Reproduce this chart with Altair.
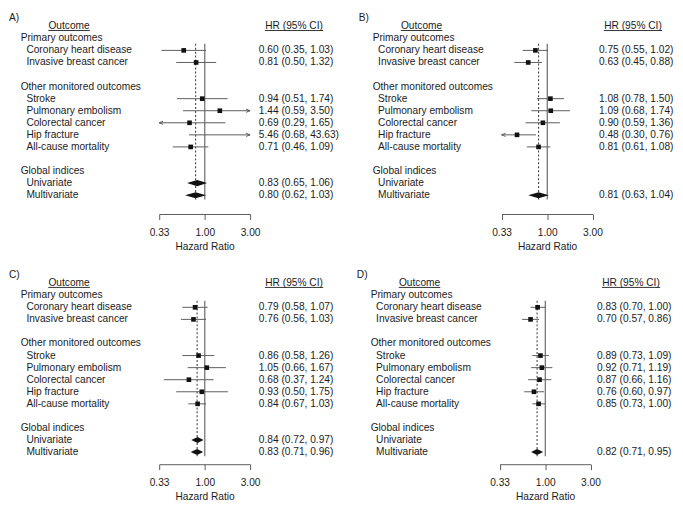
import altair as alt
import pandas as pd

# ---------------- data ----------------
GROUPS = ["Primary outcomes", "Other monitored outcomes", "Global indices"]
GROUP_ROWS = [1, 5, 12]
ITEMS = ["Coronary heart disease", "Invasive breast cancer", "Stroke",
         "Pulmonary embolism", "Colorectal cancer", "Hip fracture", "All-cause mortality"]
ITEM_ROWS = [2, 3, 6, 7, 8, 9, 10]
GLOBALS = ["Univariate", "Multivariate"]
GLOBAL_ROWS = [13, 14]
TICKS = [0.33, 1.00, 3.00]
REF_HR = 1.0

A_HR = [0.60, 0.81, 0.94, 1.44, 0.69, 5.46, 0.71]
A_LO = [0.35, 0.50, 0.51, 0.59, 0.29, 0.68, 0.46]
A_HI = [1.03, 1.32, 1.74, 3.50, 1.65, 43.63, 1.09]
A_G_HR = [0.83, 0.80]
A_G_LO = [0.65, 0.62]
A_G_HI = [1.06, 1.03]

B_HR = [0.75, 0.63, 1.08, 1.09, 0.90, 0.48, 0.81]
B_LO = [0.55, 0.45, 0.78, 0.68, 0.59, 0.30, 0.61]
B_HI = [1.02, 0.88, 1.50, 1.74, 1.36, 0.76, 1.08]
B_G_HR = [None, 0.81]
B_G_LO = [None, 0.63]
B_G_HI = [None, 1.04]

C_HR = [0.79, 0.76, 0.86, 1.05, 0.68, 0.93, 0.84]
C_LO = [0.58, 0.56, 0.58, 0.66, 0.37, 0.50, 0.67]
C_HI = [1.07, 1.03, 1.26, 1.67, 1.24, 1.75, 1.03]
C_G_HR = [0.84, 0.83]
C_G_LO = [0.72, 0.71]
C_G_HI = [0.97, 0.96]

D_HR = [0.83, 0.70, 0.89, 0.92, 0.87, 0.76, 0.85]
D_LO = [0.70, 0.57, 0.73, 0.71, 0.66, 0.60, 0.73]
D_HI = [1.00, 0.86, 1.09, 1.19, 1.16, 0.97, 1.00]
D_G_HR = [None, 0.82]
D_G_LO = [None, 0.71]
D_G_HI = [None, 0.95]

# ---------------- style / layout ----------------
FONT = "Liberation Sans"
FS = 10.3
TXT = "#1c1c1c"
LINE = "#5c5c5c"
Y0 = 14.5
DY = 12.21
DH = 0.25
RIGHT_ARROW = "M -2 -0.8 L 0 0 L -2 0.8"
LEFT_ARROW = "M 2 -0.8 L 0 0 L 2 0.8"

LAY_LEFT = dict(xl=0, xg=11.8, xi=17.6, xo=60.8, xh=288.5, xv=252.8, x0=151.9, x1=244.0)
LAY_RIGHT = dict(xl=18.0, xg=32.0, xi=37.5, xo=81.5, xh=295.5, xv=261.0, x0=162.5, x1=254.5)


def fmt(h, l, u):
    return f"{h:.2f} ({l:.2f}, {u:.2f})"


def panel(letter, hr, lo, hi, ghr, glo, ghi, lay, W, H, axoff):
    xmin, xmax = TICKS[0], TICKS[-1]
    xs = alt.Scale(type="log", domain=[xmin, xmax], range=[lay["x0"], lay["x1"]], nice=False)
    ys = alt.Scale(domain=[0, 14], range=[Y0, Y0 + 14 * DY], nice=False, zero=False)
    xaxis = alt.Axis(values=TICKS, format=".2f", title="Hazard Ratio", grid=False, offset=axoff,
                     tickSize=5.5, tickColor=LINE, domainColor=LINE, tickWidth=1, domainWidth=1,
                     labelColor=TXT, titleColor=TXT, labelFont=FONT, titleFont=FONT,
                     labelFontSize=FS, titleFontSize=FS, titleFontWeight="normal",
                     labelPadding=8.5, titlePadding=3.5, labelFlush=False, labelOverlap=False)

    def X(f):
        return alt.X(f"{f}:Q", scale=xs, axis=xaxis, title="Hazard Ratio")

    def Y(f):
        return alt.Y(f"{f}:Q", scale=ys, axis=None)

    items = pd.DataFrame({"row": ITEM_ROWS, "label": ITEMS, "hr": hr, "lo": lo, "hi": hi})
    items["lo_c"] = items["lo"].clip(lower=xmin)
    items["hi_c"] = items["hi"].clip(upper=xmax)
    items["txt"] = [fmt(a, b, c) for a, b, c in zip(hr, lo, hi)]
    left = items[items["lo"] < xmin].assign(tip=xmin)
    right = items[items["hi"] > xmax].assign(tip=xmax)
    sq = items[(items["hr"] >= xmin) & (items["hr"] <= xmax)]

    gl = pd.DataFrame({"row": GLOBAL_ROWS, "label": GLOBALS, "hr": ghr, "lo": glo, "hi": ghi})
    gv = gl.dropna().copy()
    gv["txt"] = [fmt(a, b, c) for a, b, c in zip(gv["hr"], gv["lo"], gv["hi"])]
    pts = []
    for _, r in gv.iterrows():
        for xv, h in ((r["lo"], 0.0), (r["hr"], DH), (r["hi"], 0.0)):
            pts.append({"id": r["label"], "x": xv, "yt": r["row"] - h, "yb": r["row"] + h})
    dia = pd.DataFrame(pts)

    groups = pd.DataFrame({"row": GROUP_ROWS, "label": GROUPS})
    sub = pd.DataFrame({"row": ITEM_ROWS + GLOBAL_ROWS, "label": ITEMS + GLOBALS})
    vals = pd.concat([items[["row", "txt"]], gv[["row", "txt"]]])

    txt = dict(font=FONT, fontSize=FS, color=TXT, baseline="middle")
    ytop = alt.YDatum(datum=GROUP_ROWS[0] + 0.45, scale=ys, axis=None)
    ybot = alt.Y2Datum(datum=GLOBAL_ROWS[-1] + 0.35)

    layers = [
        alt.Chart(pd.DataFrame({"hr": [REF_HR]})).mark_rule(color=LINE, strokeWidth=1.1)
        .encode(x=X("hr"), y=ytop, y2=ybot),
        alt.Chart(pd.DataFrame({"hr": [ghr[-1]]})).mark_rule(color="#444444", strokeWidth=1.1, strokeDash=[2, 2])
        .encode(x=X("hr"), y=ytop, y2=ybot),
        alt.Chart(items).mark_rule(color=LINE, strokeWidth=1)
        .encode(x=X("lo_c"), x2="hi_c:Q", y=Y("row")),
        alt.Chart(right).mark_point(shape=RIGHT_ARROW, filled=False, stroke=LINE, strokeWidth=1, size=16, opacity=1)
        .encode(x=X("tip"), y=Y("row")),
        alt.Chart(left).mark_point(shape=LEFT_ARROW, filled=False, stroke=LINE, strokeWidth=1, size=16, opacity=1)
        .encode(x=X("tip"), y=Y("row")),
        alt.Chart(sq).mark_square(color="#111111", size=22, opacity=1)
        .encode(x=X("hr"), y=Y("row")),
        alt.Chart(dia).mark_area(color="#111111", orient="vertical", opacity=1)
        .encode(x=X("x"), y=Y("yt"), y2="yb:Q", detail="id:N"),
        alt.Chart(groups).mark_text(align="left", **txt)
        .encode(x=alt.value(lay["xg"]), y=Y("row"), text="label:N"),
        alt.Chart(sub).mark_text(align="left", **txt)
        .encode(x=alt.value(lay["xi"]), y=Y("row"), text="label:N"),
        alt.Chart(vals).mark_text(align="left", **txt)
        .encode(x=alt.value(lay["xv"]), y=Y("row"), text="txt:N"),
        alt.Chart(pd.DataFrame({"row": [0], "label": ["Outcome"]})).mark_text(align="center", **txt)
        .encode(x=alt.value(lay["xo"]), y=Y("row"), text="label:N"),
        alt.Chart(pd.DataFrame({"row": [0], "label": ["HR (95% CI)"]})).mark_text(align="center", **txt)
        .encode(x=alt.value(lay["xh"]), y=Y("row"), text="label:N"),
        alt.Chart(pd.DataFrame({"k": [0]})).mark_rule(color=TXT, strokeWidth=0.9)
        .encode(x=alt.value(lay["xo"] - 21), x2=alt.value(lay["xo"] + 21), y=alt.value(18.8)),
        alt.Chart(pd.DataFrame({"k": [0]})).mark_rule(color=TXT, strokeWidth=0.9)
        .encode(x=alt.value(lay["xh"] - 29.5), x2=alt.value(lay["xh"] + 29.5), y=alt.value(18.8)),
        alt.Chart(pd.DataFrame({"label": [letter]})).mark_text(align="left", **txt)
        .encode(x=alt.value(lay["xl"]), y=alt.value(5.8), text="label:N"),
    ]
    return alt.layer(*layers).properties(width=W, height=H)


pa = panel("A)", A_HR, A_LO, A_HI, A_G_HR, A_G_LO, A_G_HI, LAY_LEFT, 332, 258, -53.5)
pb = panel("B)", B_HR, B_LO, B_HI, B_G_HR, B_G_LO, B_G_HI, LAY_RIGHT, 330, 258, -53.5)
pc = panel("C)", C_HR, C_LO, C_HI, C_G_HR, C_G_LO, C_G_HI, LAY_LEFT, 332, 236, -38.3)
pd_ = panel("D)", D_HR, D_LO, D_HI, D_G_HR, D_G_LO, D_G_HI, LAY_RIGHT, 330, 236, -38.3)

chart = alt.vconcat(
    alt.hconcat(pa, pb, spacing=0),
    alt.hconcat(pc, pd_, spacing=0),
    spacing=0,
).properties(padding=0).configure_view(stroke="transparent")

chart.save("out.html", embed_options={"renderer": "svg", "actions": False})
